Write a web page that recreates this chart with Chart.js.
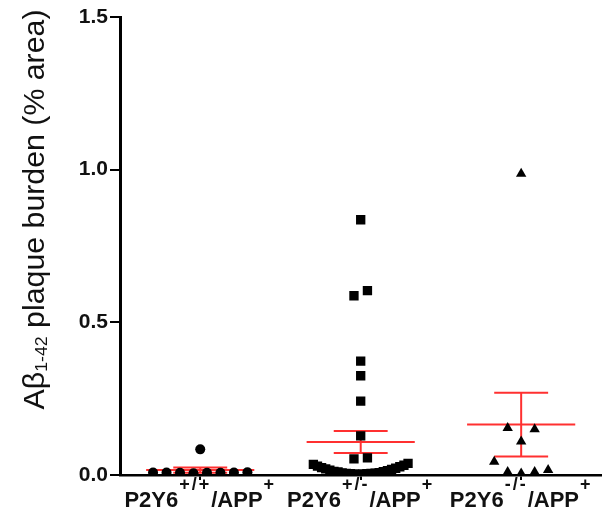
<!DOCTYPE html>
<html>
<head>
<meta charset="utf-8">
<script src="https://cdn.jsdelivr.net/npm/chart.js@4/dist/chart.umd.min.js"></script>
<style>
  html, body { margin: 0; background: #fff; }
  #wrap { width: 608px; height: 513px; }
</style>
</head>
<body>
<div id="wrap"><canvas id="plaque-chart" width="608" height="513"></canvas></div>
<script>
// group labels, ^{..} = superscript, _{..} = subscript
const categories = ['P2Y6^{+/+}/APP^{+}', 'P2Y6^{+/-}/APP^{+}', 'P2Y6^{-/-}/APP^{+}'];

const wildType = [0.007, 0.008, 0.006, 0.009, 0.007, 0.008, 0.008, 0.007, 0.084];
const heterozygous = [
  0.003, 0.003, 0.003, 0.004, 0.004, 0.005, 0.005, 0.006, 0.007, 0.008, 0.010, 0.011,
  0.012, 0.014, 0.016, 0.018, 0.020, 0.022, 0.024, 0.027, 0.029, 0.032, 0.035, 0.038,
  0.053, 0.056, 0.128, 0.242, 0.325, 0.373, 0.587, 0.604, 0.836
];
const knockout = [0.005, 0.010, 0.010, 0.016, 0.043, 0.110, 0.150, 0.154, 0.987];

const yTicks = [0, 0.5, 1.0, 1.5];
const yTitle = 'A\u03b2_{1-42} plaque burden (% area)';

const groups = [wildType, heterozygous, knockout];
const markers = ['circle', 'rect', 'triangle'];
const markerRadius = [5, 6.6, 6];

// column scatter layout (GraphPad style): points of similar value share a row
const STEP = 0.084;     // spacing between neighbours, in category units
const MAX_SPAN = 0.59;  // widest a row may get
const ROW_TOL = 0.045;  // values this close go into the same row

function swarm(values, center) {
  const sorted = values.slice().sort((a, b) => a - b);
  const rows = [];
  sorted.forEach(v => {
    const row = rows[rows.length - 1];
    if (row && v - row[0] <= ROW_TOL) row.push(v);
    else rows.push([v]);
  });
  const pts = [];
  rows.forEach(row => {
    const n = row.length;
    const step = n > 1 ? Math.min(STEP, MAX_SPAN / (n - 1)) : 0;
    row.forEach((v, i) => {
      let slot;
      if (n % 2 === 1) {
        const k = Math.ceil(i / 2);
        slot = i === 0 ? 0 : (i % 2 === 1 ? k : -k);
      } else {
        const k = Math.floor(i / 2) + 0.5;
        slot = i % 2 === 0 ? -k : k;
      }
      pts.push({ x: center + slot * step, y: v });
    });
  });
  return pts;
}

function meanSem(values) {
  const n = values.length;
  const mean = values.reduce((a, b) => a + b, 0) / n;
  const sd = Math.sqrt(values.reduce((a, v) => a + (v - mean) ** 2, 0) / (n - 1));
  return { mean, sem: sd / Math.sqrt(n) };
}

const MEAN_HALF = 0.337;
const SEM_HALF = 0.168;
const RED = '#ff3030';

const datasets = [];
groups.forEach((vals, i) => {
  datasets.push({
    data: swarm(vals, i + 1),
    pointStyle: markers[i],
    pointRadius: markerRadius[i],
    pointBackgroundColor: '#000',
    pointBorderWidth: 0,
    showLine: false,
    order: 0
  });
});
groups.forEach((vals, i) => {
  const c = i + 1;
  const s = meanSem(vals);
  datasets.push({
    data: [{ x: c - MEAN_HALF, y: s.mean }, { x: c + MEAN_HALF, y: s.mean }],
    showLine: true, borderColor: RED, borderWidth: 2, pointRadius: 0, order: 1
  });
  const hi = s.mean + s.sem, lo = s.mean - s.sem;
  datasets.push({
    data: [
      { x: c - SEM_HALF, y: hi }, { x: c + SEM_HALF, y: hi }, { x: c, y: hi },
      { x: c, y: lo }, { x: c - SEM_HALF, y: lo }, { x: c + SEM_HALF, y: lo }
    ],
    showLine: true, borderColor: RED, borderWidth: 2, pointRadius: 0, order: 1
  });
});

function parseParts(str) {
  const parts = [];
  const re = /([\^_])\{([^}]*)\}/g;
  let last = 0, m;
  while ((m = re.exec(str)) !== null) {
    if (m.index > last) parts.push({ text: str.slice(last, m.index), mode: 'normal' });
    parts.push({ text: m[2], mode: m[1] === '^' ? 'sup' : 'sub' });
    last = re.lastIndex;
  }
  if (last < str.length) parts.push({ text: str.slice(last), mode: 'normal' });
  return parts;
}

const FAMILY = '"Liberation Sans", Arial, sans-serif';

const richLabels = {
  id: 'richLabels',
  afterDraw(chart) {
    const ctx = chart.ctx;
    const xs = chart.scales.x;
    ctx.save();
    ctx.fillStyle = '#111';
    ctx.textBaseline = 'alphabetic';
    ctx.textAlign = 'left';

    // category labels under the x axis
    categories.forEach((cat, i) => {
      const parts = parseParts(cat);
      const fontFor = p => p.mode === 'normal' ? 'bold 22px ' + FAMILY : 'bold 18px ' + FAMILY;
      let total = 0;
      parts.forEach(p => {
        ctx.font = fontFor(p);
        ctx.letterSpacing = p.mode === 'normal' ? '0px' : '2px';
        p.w = ctx.measureText(p.text).width + (p.mode === 'normal' ? 0 : 1);
        total += p.w;
      });
      let x = xs.getPixelForValue(i + 1) - total / 2;
      const base = 507;
      parts.forEach(p => {
        ctx.font = fontFor(p);
        ctx.letterSpacing = p.mode === 'normal' ? '0px' : '2px';
        ctx.fillText(p.text, x + (p.mode === 'normal' ? 0 : 1), p.mode === 'sup' ? base - 17 : base);
        x += p.w;
      });
    });
    ctx.letterSpacing = '0px';

    // rotated y axis title
    const parts = parseParts(yTitle);
    const fontFor = p => p.mode === 'normal' ? '29px ' + FAMILY : '17px ' + FAMILY;
    let total = 0;
    parts.forEach(p => {
      ctx.font = fontFor(p);
      p.w = ctx.measureText(p.text).width;
      total += p.w;
    });
    const length = 400;
    ctx.translate(43.5, 209.5);
    ctx.rotate(-Math.PI / 2);
    ctx.scale(length / total, 1);
    let x = -total / 2;
    parts.forEach(p => {
      ctx.font = fontFor(p);
      ctx.fillText(p.text, x, p.mode === 'sub' ? 3 : 0);
      x += p.w;
    });
    ctx.restore();
  }
};

new Chart(document.getElementById('plaque-chart').getContext('2d'), {
  type: 'scatter',
  data: { datasets },
  plugins: [richLabels],
  options: {
    responsive: false,
    animation: false,
    events: [],
    layout: { padding: { top: 17, right: 0, left: 0, bottom: 0 } },
    plugins: { legend: { display: false }, tooltip: { enabled: false } },
    scales: {
      x: {
        type: 'linear',
        min: 0.5,
        max: 3.5,
        afterBuildTicks: s => { s.ticks = categories.map((c, i) => ({ value: i + 1 })); },
        afterFit: s => { s.height = 38; },
        ticks: { display: false },
        grid: { drawOnChartArea: false, drawTicks: true, tickLength: 5, color: '#000', lineWidth: 2 },
        border: { display: true, color: '#000', width: 2.5 }
      },
      y: {
        min: 0,
        max: 1.5,
        afterBuildTicks: s => { s.ticks = yTicks.map(v => ({ value: v })); },
        afterFit: s => { s.width = 120; },
        ticks: {
          callback: v => Number(v).toFixed(1),
          color: '#111',
          padding: 2,
          font: { family: FAMILY, weight: 'bold', size: 21 }
        },
        grid: { drawOnChartArea: false, drawTicks: true, tickLength: 10, color: '#000', lineWidth: 2 },
        border: { display: true, color: '#000', width: 3 }
      }
    }
  }
});
</script>
</body>
</html>
